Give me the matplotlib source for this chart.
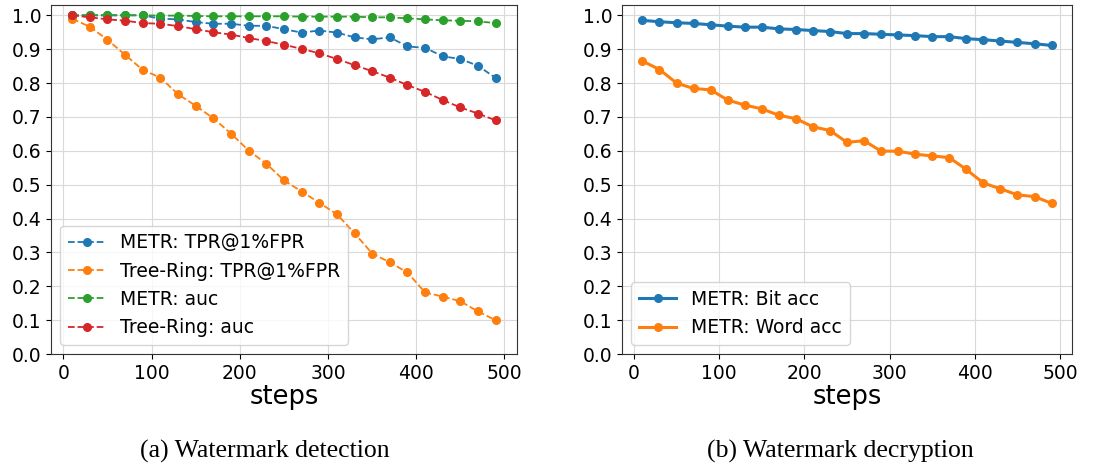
import matplotlib
matplotlib.use("Agg")
import matplotlib.pyplot as plt

steps = list(range(10, 500, 20))

# (a) watermark detection
metr_tpr = [1.0, 1.0, 1.0, 1.0, 1.0, 0.99, 0.988, 0.980, 0.975, 0.975, 0.969, 0.969, 0.959,
            0.949, 0.955, 0.949, 0.935, 0.929, 0.935, 0.908, 0.904, 0.879, 0.871, 0.851, 0.815]
tree_tpr = [0.99, 0.966, 0.928, 0.883, 0.839, 0.816, 0.767, 0.733, 0.696, 0.651, 0.601, 0.562, 0.513,
            0.48, 0.447, 0.413, 0.357, 0.297, 0.271, 0.241, 0.182, 0.17, 0.156, 0.126, 0.1]
metr_auc = [1.0, 1.0, 1.0, 1.0, 1.0, 0.999, 0.999, 0.998, 0.997, 0.997, 0.997, 0.997, 0.997,
            0.996, 0.996, 0.996, 0.996, 0.994, 0.994, 0.991, 0.988, 0.985, 0.984, 0.982, 0.977]
tree_auc = [1.0, 0.994, 0.988, 0.984, 0.977, 0.975, 0.968, 0.959, 0.950, 0.943, 0.933, 0.924, 0.913,
            0.901, 0.888, 0.871, 0.853, 0.835, 0.816, 0.794, 0.774, 0.750, 0.728, 0.710, 0.690]

# (b) watermark decryption
bit_acc = [0.985, 0.981, 0.978, 0.976, 0.972, 0.968, 0.965, 0.965, 0.960, 0.958, 0.955, 0.952, 0.946,
           0.946, 0.944, 0.942, 0.940, 0.937, 0.937, 0.931, 0.928, 0.924, 0.920, 0.916, 0.911]
word_acc = [0.865, 0.840, 0.800, 0.784, 0.780, 0.750, 0.735, 0.724, 0.705, 0.695, 0.671, 0.660, 0.625,
            0.630, 0.599, 0.599, 0.590, 0.585, 0.580, 0.545, 0.505, 0.488, 0.470, 0.465, 0.445]

yticks = [i / 10 for i in range(11)]

fig = plt.figure(figsize=(11.02, 4.66), dpi=100)
ax1 = fig.add_axes([0.0463, 0.240, 0.4227, 0.749])
ax2 = fig.add_axes([0.5644, 0.240, 0.4084, 0.749])

ax1.plot(steps, metr_tpr, '--o', color='tab:blue', lw=1.3, ms=5.5, label='METR: TPR@1%FPR')
ax1.plot(steps, tree_tpr, '--o', color='tab:orange', lw=1.3, ms=5.5, label='Tree-Ring: TPR@1%FPR')
ax1.plot(steps, metr_auc, '--o', color='tab:green', lw=1.3, ms=5.5, label='METR: auc')
ax1.plot(steps, tree_auc, '--o', color='tab:red', lw=1.3, ms=5.5, label='Tree-Ring: auc')

ax2.plot(steps, bit_acc, '-o', color='tab:blue', lw=2.2, ms=5.5, label='METR: Bit acc')
ax2.plot(steps, word_acc, '-o', color='tab:orange', lw=2.2, ms=5.5, label='METR: Word acc')

for ax in (ax1, ax2):
    ax.set_ylim(0, 1.03)
    ax.set_yticks(yticks)
    ax.set_xticks([0, 100, 200, 300, 400, 500])
    ax.tick_params(labelsize=13.5)
    ax.grid(True, color='#d9d9d9', lw=0.8)
    ax.set_axisbelow(True)
    ax.set_xlabel('steps', fontsize=18.5, labelpad=1)
    for s in ax.spines.values():
        s.set_color('#333333')
    ax.legend(loc='lower left', fontsize=13.5, framealpha=0.8)

fig.text(0.2407, 0.032, '(a) Watermark detection', ha='center', va='center',
         fontsize=18.5, family='Liberation Serif')
fig.text(0.7626, 0.032, '(b) Watermark decryption', ha='center', va='center',
         fontsize=18.5, family='Liberation Serif')

fig.savefig('out.png', dpi=100)
